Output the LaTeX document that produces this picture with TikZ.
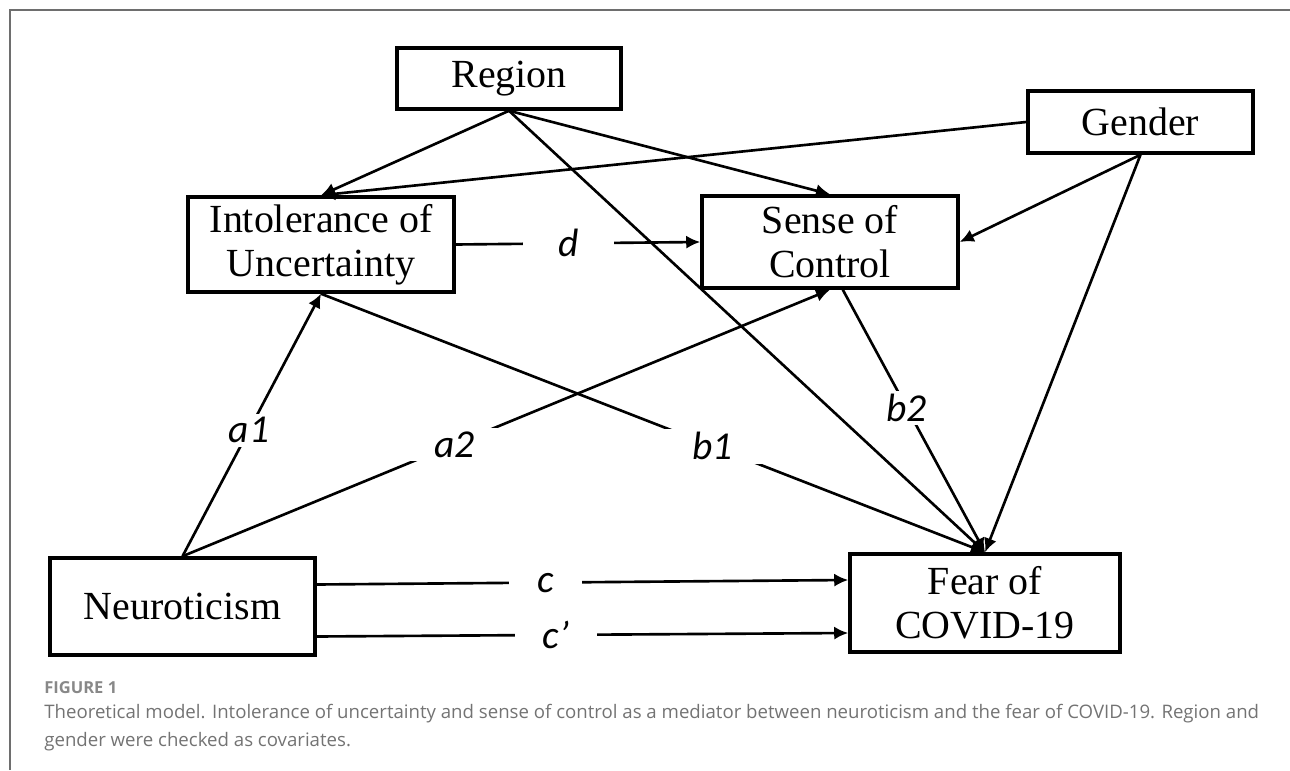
\documentclass[tikz,border=0pt]{standalone}
\usepackage{fontspec}
\setmainfont{Liberation Serif}
\newfontfamily\lblfont{Carlito}
\newfontfamily\capfont{Open Sans}
\usepackage{xcolor}
\usepackage{tikz}
\usetikzlibrary{calc, arrows.meta, positioning}

\definecolor{framegray}{RGB}{110,110,110}
\definecolor{capgray}{RGB}{115,115,115}

\begin{document}
\begin{tikzpicture}[x=0.02cm, y=-0.02cm, >={Latex[length=8pt,width=7.5pt]},
    box/.style={draw, line width=2pt, align=center, inner sep=0pt,
        font=\fontsize{22.7}{25}\selectfont},
    link/.style={->, line width=1.5pt},
    lbl/.style={fill=white, inner ysep=2pt, inner xsep=11pt,
        font=\lblfont\itshape\fontsize{22.5}{25}\selectfont}]

    % page size and frame
    \useasboundingbox (0,0) rectangle (1290,770);
    \draw[framegray, line width=0.8pt] (10,770) -- (10,10) -- (1290,10);

    % variables
    \node[box, minimum width=4.48cm, minimum height=1.22cm] (region) at (509,78.5) {Region};
    \node[box, minimum width=4.5cm, minimum height=1.24cm] (gender) at (1140.5,122) {Gender};
    \node[box, minimum width=5.32cm, minimum height=1.9cm] (intol) at (321,244.5) {Intolerance of\\Uncertainty};
    \node[box, minimum width=5.12cm, minimum height=1.84cm] (sense) at (830,242) {Sense of\\Control};
    \node[box, minimum width=5.3cm, minimum height=1.94cm] (neuro) at (182.5,606.5) {Neuroticism};
    \node[box, minimum width=5.4cm, minimum height=1.96cm] (fear) at (985,603) {Fear of\\COVID-19};

    % covariates
    \draw[link] (region.south) -- (intol.north);
    \draw[link] (region.south) -- (sense.north);
    \draw[link] (region.south) -- (fear.north);
    \draw[link] (gender.west) -- (intol.north);
    \draw[link] (gender.south) -- (sense.east);
    \draw[link] (gender.south) -- (fear.north);

    % paths of the model
    \draw[link] (intol.east) -- node[lbl, inner xsep=20pt, pos=0.46] {d} (sense.west);
    \draw[link] (neuro.north) -- node[lbl, pos=0.48] {a1} (intol.south);
    \draw[link] (neuro.north) -- node[lbl, inner xsep=14pt, pos=0.42] {a2} (sense.south);
    \draw[link] (intol.south) -- node[lbl, inner xsep=17pt, pos=0.59] {b1} (fear.north);
    \draw[link] (sense.-75) -- node[lbl, pos=0.45] {b2} (fear.north);
    \draw[link] ($(neuro.east)+(0,-22)$) -- node[lbl, inner xsep=16pt, pos=0.43] {c} ($(fear.west)+(0,-23)$);
    \draw[link] ($(neuro.east)+(0,30)$) -- node[lbl, inner xsep=16pt, pos=0.45] {c’} ($(fear.west)+(0,30)$);

    % caption
    \node[anchor=base west, inner sep=0pt, text=capgray!85,
        font=\capfont\fontsize{9.4}{11}\selectfont\bfseries] (fig) at (44,693) {FIGURE 1};
    \node[anchor=base west, inner sep=0pt, text=capgray,
        font=\capfont\fontsize{10.6}{13}\selectfont] (cap1) at (44,718)
        {Theoretical model. Intolerance of uncertainty and sense of control as a mediator between neuroticism and the fear of COVID-19. Region and};
    \node[anchor=base west, inner sep=0pt, text=capgray,
        font=\capfont\fontsize{10.6}{13}\selectfont] (cap2) at (44,746)
        {gender were checked as covariates.};

\end{tikzpicture}
\end{document}
